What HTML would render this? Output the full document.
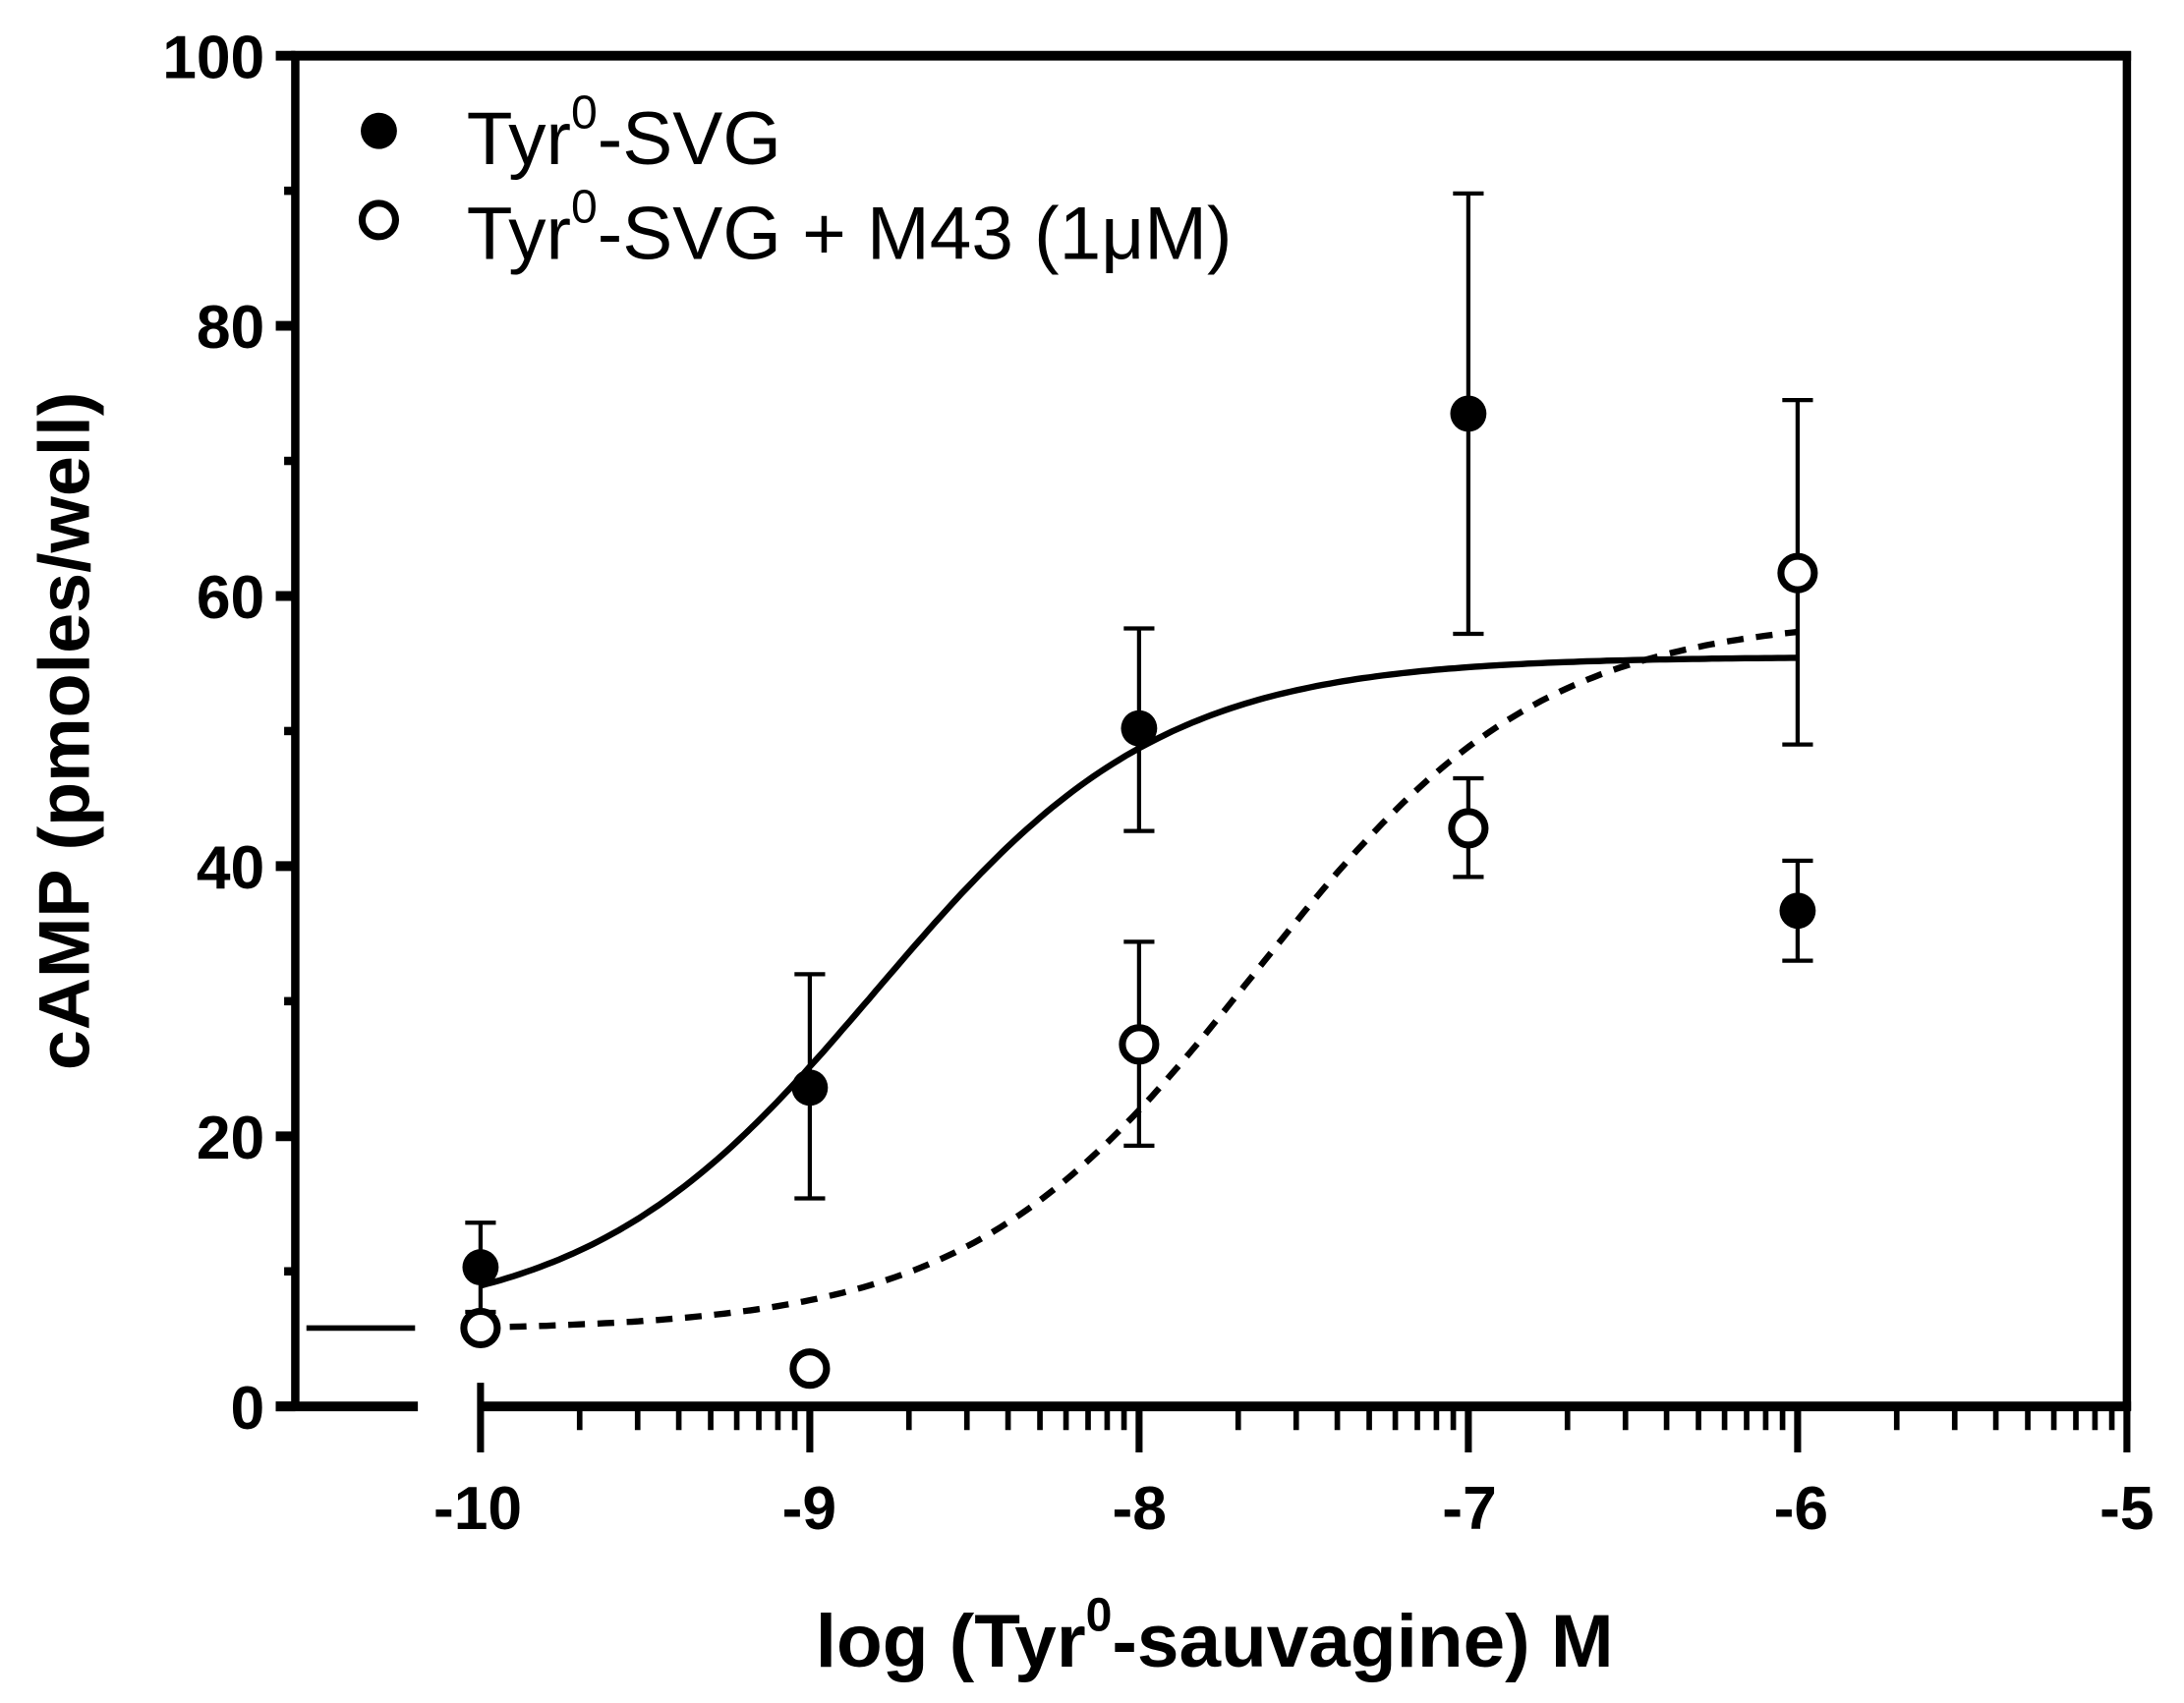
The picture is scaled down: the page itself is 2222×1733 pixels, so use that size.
<!DOCTYPE html>
<html><head><meta charset="utf-8"><style>
html,body{margin:0;padding:0;background:#fff;}
svg{display:block;}
text{font-family:"Liberation Sans",Arial,sans-serif;fill:#000;}
</style></head><body>
<svg id="s" width="2222" height="1733" viewBox="0 0 1568 1223" preserveAspectRatio="none" xmlns="http://www.w3.org/2000/svg">
<g id="g"></g>
<g font-weight="bold" font-size="44" text-anchor="end">
<text x="190" y="1026">0</text>
<text x="190" y="832">20</text>
<text x="190" y="638">40</text>
<text x="190" y="444">60</text>
<text x="190" y="250">80</text>
<text x="190" y="56">100</text>
</g>
<g font-weight="bold" font-size="44" text-anchor="middle">
<text x="343" y="1098">-10</text>
<text x="581" y="1098">-9</text>
<text x="818" y="1098">-8</text>
<text x="1055" y="1098">-7</text>
<text x="1293" y="1098">-6</text>
<text x="1527" y="1098">-5</text>
</g>
<text x="872" y="1197" font-weight="bold" font-size="54" text-anchor="middle">log (Tyr<tspan font-size="34" dy="-26">0</tspan><tspan dy="26">-sauvagine) M</tspan></text>
<text transform="translate(64,525) rotate(-90)" font-weight="bold" font-size="52" text-anchor="middle">cAMP (pmoles/well)</text>
<circle cx="272" cy="94" r="13" fill="#000"/>
<circle cx="272" cy="158" r="12" fill="#fff" stroke="#000" stroke-width="5"/>
<text x="335" y="118" font-size="54">Tyr<tspan font-size="34" dy="-26">0</tspan><tspan dy="26">-SVG</tspan></text>
<text x="335" y="186" font-size="54">Tyr<tspan font-size="34" dy="-26">0</tspan><tspan dy="26">-SVG + M43 (1μM)</tspan></text>
</svg>
<script>
var g=document.getElementById('g'),NS='http://www.w3.org/2000/svg';
function el(t,a){var e=document.createElementNS(NS,t);for(var k in a)e.setAttribute(k,a[k]);g.appendChild(e);return e;}
function X(l){return 345+(l+10)*236.4;}
function Y(v){return 1010-9.7*v;}
el('line',{x1:209,y1:40,x2:1530,y2:40,stroke:'#000','stroke-width':7});
el('line',{x1:212,y1:37,x2:212,y2:1013,stroke:'#000','stroke-width':6});
el('line',{x1:1527,y1:37,x2:1527,y2:1013,stroke:'#000','stroke-width':6});
el('line',{x1:198,y1:1010,x2:300,y2:1010,stroke:'#000','stroke-width':7});
el('line',{x1:345,y1:1010,x2:1530,y2:1010,stroke:'#000','stroke-width':7});
for(var v=0;v<=100;v+=10){el('line',{x1:v%20==0?198:204,y1:Y(v),x2:212,y2:Y(v),stroke:'#000','stroke-width':v%20==0?7:6});}
el('line',{x1:345,y1:993,x2:345,y2:1043,stroke:'#000','stroke-width':5});
for(var d=-10;d<-5;d++){for(var m=2;m<=10;m++){var x=X(d+Math.log10(m));el('line',{x1:x,y1:1010,x2:x,y2:m==10?1043:1027,stroke:'#000','stroke-width':m==10?5:4});}}
function curve(b,t,ec,dash){var p='';for(var i=0;i<=200;i++){var l=-10+4*i/200;var v=b+(t-b)/(1+Math.pow(10,ec-l));p+=(i?'L':'M')+X(l).toFixed(1)+' '+Y(v).toFixed(1);}var a={d:p,fill:'none',stroke:'#000','stroke-width':4.5};if(dash)a['stroke-dasharray']='12 9';el('path',a);}
curve(6,55.5,-8.8,false);
curve(5.6,58.5,-7.65,true);
el('line',{x1:220,y1:Y(5.8),x2:298,y2:Y(5.8),stroke:'#000','stroke-width':4});
function eb(l,lo,hi){var x=X(l);el('line',{x1:x,y1:Y(lo),x2:x,y2:Y(hi),stroke:'#000','stroke-width':3});[lo,hi].forEach(function(v){el('line',{x1:x-11,y1:Y(v),x2:x+11,y2:Y(v),stroke:'#000','stroke-width':3});});}
eb(-10,7,13.6);eb(-9,15.4,32);eb(-8,42.6,57.6);eb(-7,57.2,89.8);eb(-6,33,40.4);
eb(-9,2,3.6);eb(-8,19.3,34.4);eb(-7,39.2,46.5);eb(-6,49,74.5);
[[-10,10.3],[-9,23.6],[-8,50.2],[-7,73.5],[-6,36.7]].forEach(function(p){el('circle',{cx:X(p[0]),cy:Y(p[1]),r:13,fill:'#000'});});
[[-10,5.8],[-9,2.8],[-8,26.8],[-7,42.8],[-6,61.7]].forEach(function(p){el('circle',{cx:X(p[0]),cy:Y(p[1]),r:12,fill:'#fff',stroke:'#000','stroke-width':5});});
</script>
</body></html>
